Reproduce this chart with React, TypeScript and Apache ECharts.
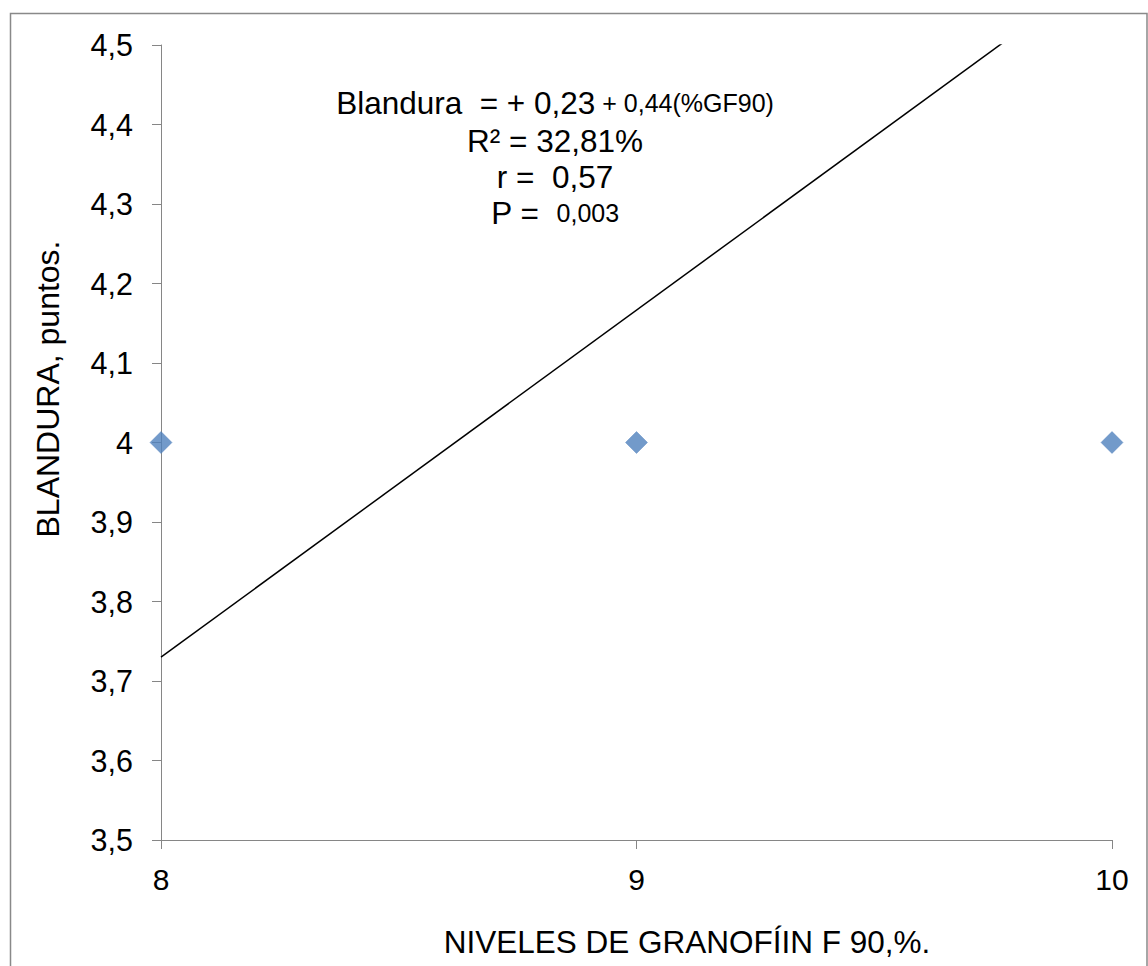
import React, { useEffect, useRef } from "react";
import * as echarts from "echarts";

const pointX = [8, 9, 10];
const pointY = [4, 4, 4];
const trendX = [8, 10];
const trendY = [3.73, 4.603];
const xTicks = [8, 9, 10];
const yMin = 3.5;
const yMax = 4.5;
const yStep = 0.1;
const xTitle = "NIVELES DE GRANOFÍIN F 90,%.";
const yTitle = "BLANDURA, puntos.";
const eqLines = [
  [["a", "Blandura  = + 0,23"], ["b", " + 0,44(%GF90)"]],
  [["a", "R² = 32,81%"]],
  [["a", "r =  0,57"]],
  [["a", "P =  "], ["b", "0,003"]],
];

const FONT = "'Liberation Sans', Arial, Helvetica, sans-serif";

export default function App() {
  const ref = useRef<HTMLDivElement>(null);
  useEffect(() => {
    if (!ref.current) return;
    const chart = echarts.init(ref.current, null, { renderer: "svg" });
    const eqY = [103, 141, 177, 213];
    const eqGraphics = eqLines.map((line, i) => ({
      type: "text",
      x: 555,
      y: eqY[i],
      style: {
        text: line.map(([k, t]) => `{${k}|${t}}`).join(""),
        align: "center",
        verticalAlign: "middle",
        rich: {
          a: { fontSize: 31.5, fontFamily: FONT, fill: "#000" },
          b: { fontSize: 25, fontFamily: FONT, fill: "#000" },
        },
      },
    }));
    chart.setOption({
      animation: false,
      backgroundColor: "#fff",
      textStyle: { fontFamily: FONT },
      grid: { left: 161, right: 36, top: 45, bottom: 126, containLabel: false },
      xAxis: {
        type: "value",
        min: xTicks[0],
        max: xTicks[xTicks.length - 1],
        interval: 1,
        axisLine: { show: true, lineStyle: { color: "#868686", width: 1 } },
        axisTick: { show: true, length: 9, lineStyle: { color: "#868686" } },
        axisLabel: { fontSize: 30, color: "#000", margin: 24, fontFamily: FONT },
        splitLine: { show: false },
      },
      yAxis: {
        type: "value",
        min: yMin,
        max: yMax,
        interval: yStep,
        axisLine: { show: true, lineStyle: { color: "#868686", width: 1 } },
        axisTick: { show: true, length: 9, lineStyle: { color: "#868686" } },
        axisLabel: {
          fontSize: 30.5,
          color: "#000",
          margin: 28,
          fontFamily: FONT,
          formatter: (v: number) => String(Math.round(v * 10) / 10).replace(".", ","),
        },
        splitLine: { show: false },
      },
      series: [
        {
          type: "line",
          data: trendX.map((x, i) => [x, trendY[i]]),
          showSymbol: false,
          symbol: "none",
          clip: true,
          lineStyle: { color: "#000", width: 1.5 },
          z: 2,
        },
        {
          type: "scatter",
          data: pointX.map((x, i) => [x, pointY[i]]),
          symbol: "diamond",
          symbolSize: [22, 22],
          itemStyle: { color: "#4F81BD", borderColor: "#4A7EBB", borderWidth: 0.5 },
          clip: false,
          z: 3,
        },
      ],
      graphic: [
        {
          type: "rect",
          shape: { x: 10.5, y: 13.5, width: 1136.5, height: 1000 },
          style: { fill: "none", stroke: "#898989", lineWidth: 1.5 },
          silent: true,
        },
        {
          type: "text",
          x: 687,
          y: 942,
          style: {
            text: xTitle,
            fontSize: 31.5,
            fontFamily: FONT,
            fill: "#000",
            align: "center",
            verticalAlign: "middle",
          },
        },
        {
          type: "text",
          x: 48,
          y: 389,
          rotation: Math.PI / 2,
          style: {
            text: yTitle,
            fontSize: 32,
            fontFamily: FONT,
            fill: "#000",
            align: "center",
            verticalAlign: "middle",
          },
        },
        ...eqGraphics,
      ],
    });
    return () => chart.dispose();
  }, []);
  return (
    <div
      ref={ref}
      style={{ position: "fixed", left: 0, top: 0, width: 1148, height: 966, background: "#fff" }}
    />
  );
}
